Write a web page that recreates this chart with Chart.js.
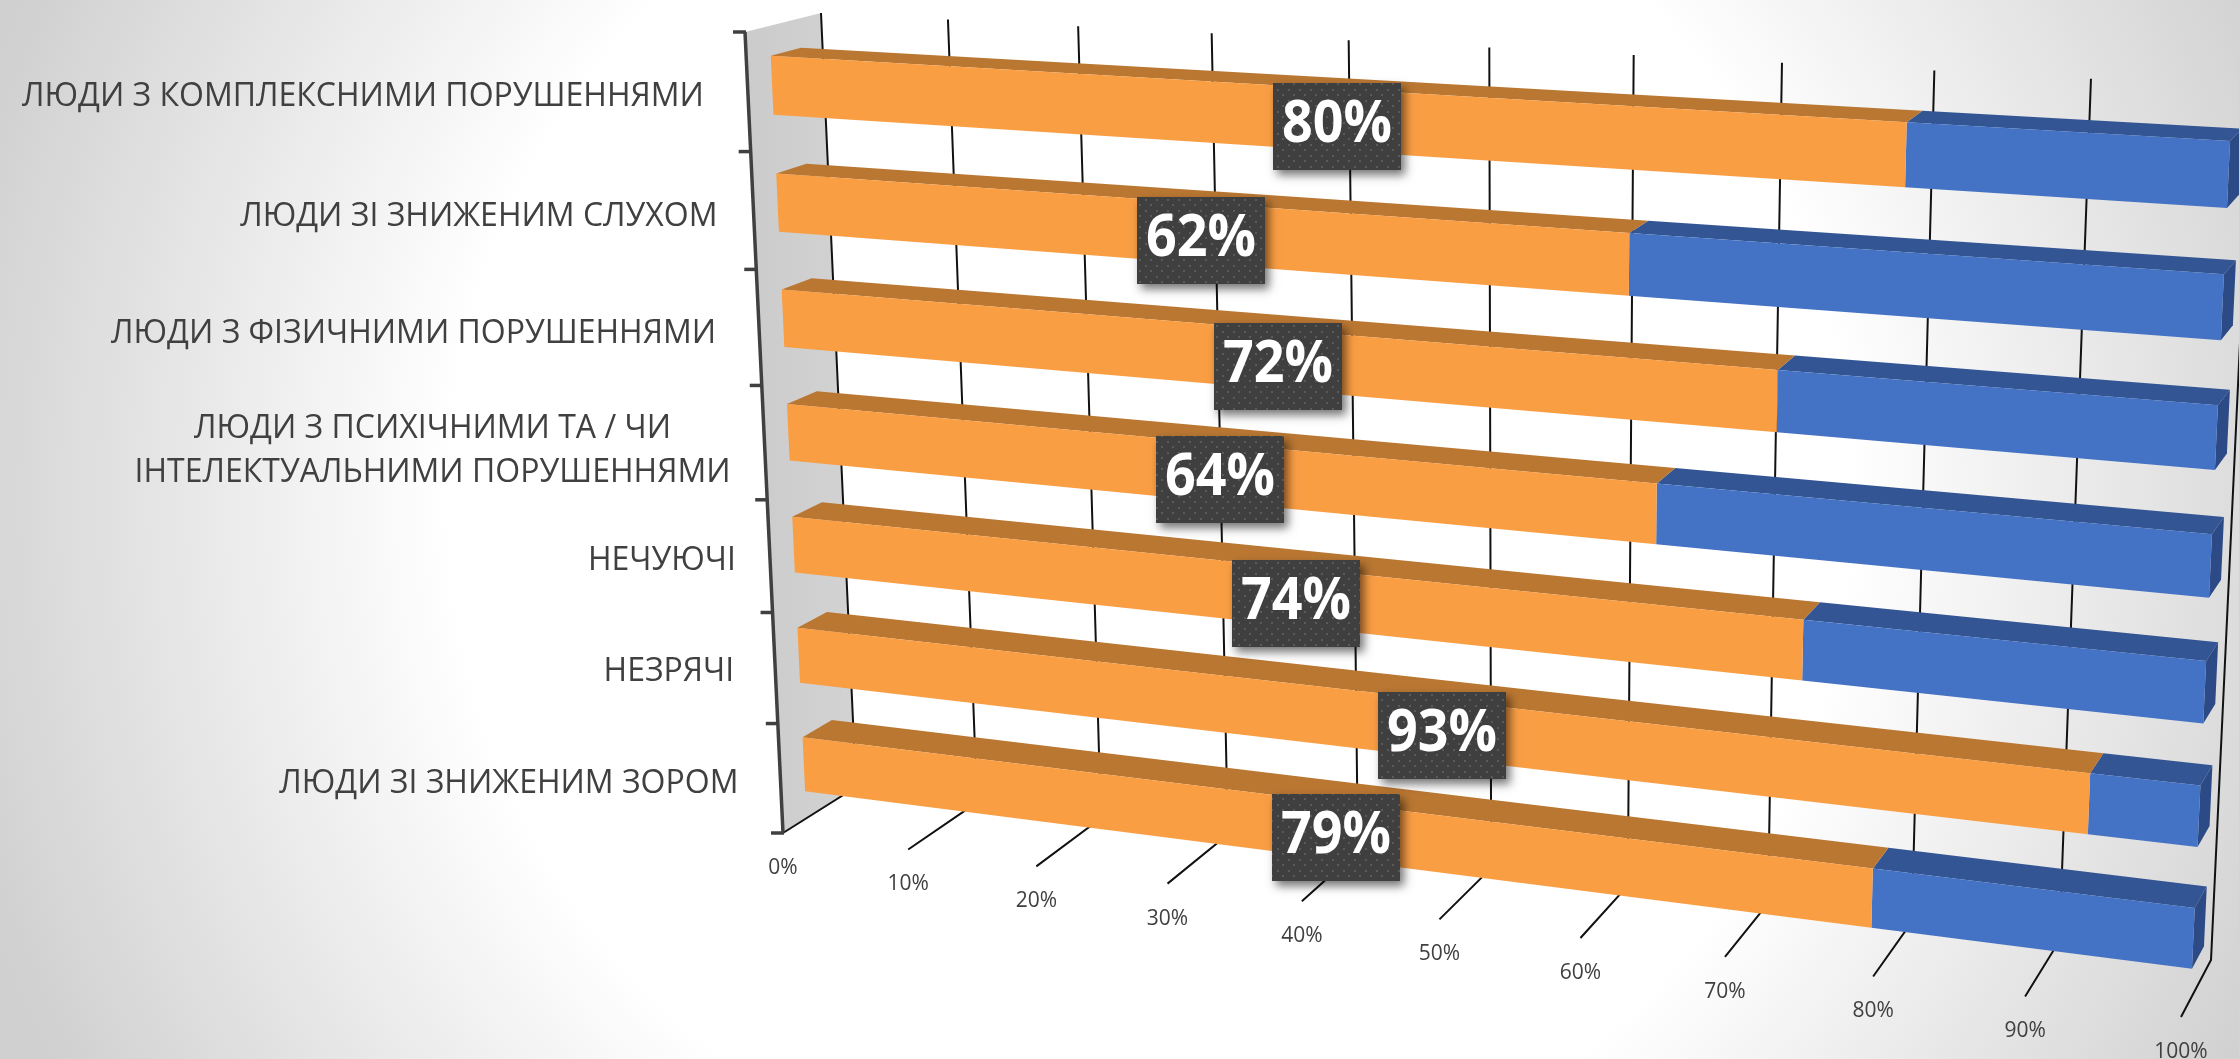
<!DOCTYPE html>
<html>
<head>
<meta charset="utf-8">
<script src="https://cdn.jsdelivr.net/npm/chart.js@4"></script>
<style>
    html, body { margin: 0; padding: 0; width: 2239px; height: 1059px; overflow: hidden; }
    body { background: radial-gradient(circle at 1150px 500px, #ffffff 700px, #d0d0d0 1230px); }
    canvas { display: block; }
</style>
</head>
<body>
<canvas id="grafico" width="2239" height="1059"></canvas>
<script>
// datos
const categorias = [
    'ЛЮДИ З КОМПЛЕКСНИМИ ПОРУШЕННЯМИ',
    'ЛЮДИ ЗІ ЗНИЖЕНИМ СЛУХОМ',
    'ЛЮДИ З ФІЗИЧНИМИ ПОРУШЕННЯМИ',
    ['ЛЮДИ З ПСИХІЧНИМИ ТА / ЧИ', 'ІНТЕЛЕКТУАЛЬНИМИ ПОРУШЕННЯМИ'],
    'НЕЧУЮЧІ',
    'НЕЗРЯЧІ',
    'ЛЮДИ ЗІ ЗНИЖЕНИМ ЗОРОМ'
];
const valoresNaranja = [80, 62, 72, 64, 74, 93, 79];
const valoresAzul = [20, 38, 28, 36, 26, 7, 21];

// esquinas de los planos frontal y trasero de la caja 3D (arriba-izq, arriba-der, abajo-der, abajo-izq)
const planoFrente = [[745, 32], [2222, 117], [2181, 1017], [783, 833]];
const planoFondo = [[821, 13], [2252, 87], [2211, 960], [856, 787]];
const barraDesde = 0.32, barraHasta = 0.72;
// ajuste de las etiquetas de categoria: [hueco hasta el eje, desplazamiento vertical]
const ajusteEtiquetas = [[44, 5], [36, 6], [43, 6], [34, 8], [34, 5], [41, 4], [42, 5]];

function homografia(q) {
    const [p0, p1, p2, p3] = q;
    const dx1 = p1[0] - p2[0], dx2 = p3[0] - p2[0], sx = p0[0] - p1[0] + p2[0] - p3[0];
    const dy1 = p1[1] - p2[1], dy2 = p3[1] - p2[1], sy = p0[1] - p1[1] + p2[1] - p3[1];
    const den = dx1 * dy2 - dx2 * dy1;
    const g = (sx * dy2 - dx2 * sy) / den;
    const h = (dx1 * sy - sx * dy1) / den;
    const a = p1[0] - p0[0] + g * p1[0], b = p3[0] - p0[0] + h * p3[0];
    const d = p1[1] - p0[1] + g * p1[1], e = p3[1] - p0[1] + h * p3[1];
    return function (u, v) {
        const w = g * u + h * v + 1;
        return [(a * u + b * v + p0[0]) / w, (d * u + e * v + p0[1]) / w];
    };
}
const hFrente = homografia(planoFrente);
const hFondo = homografia(planoFondo);

function proyectar(u, v, prof) {
    const a = hFrente(u, v), b = hFondo(u, v);
    return [a[0] + (b[0] - a[0]) * prof, a[1] + (b[1] - a[1]) * prof];
}

function poligono(ctx, puntos, color) {
    ctx.beginPath();
    puntos.forEach((p, i) => i ? ctx.lineTo(p[0], p[1]) : ctx.moveTo(p[0], p[1]));
    ctx.closePath();
    ctx.fillStyle = color;
    ctx.fill();
}

function linea(ctx, puntos, color, ancho) {
    ctx.beginPath();
    puntos.forEach((p, i) => i ? ctx.lineTo(p[0], p[1]) : ctx.moveTo(p[0], p[1]));
    ctx.strokeStyle = color;
    ctx.lineWidth = ancho;
    ctx.stroke();
}

function texturaPuntos(ctx) {
    const c = document.createElement('canvas');
    c.width = 11; c.height = 11;
    const t = c.getContext('2d');
    t.fillStyle = '#3f3f3f';
    t.fillRect(0, 0, 11, 11);
    t.fillStyle = '#5a5a5a';
    t.fillRect(1, 1, 2, 2);
    t.fillRect(6, 6, 2, 2);
    return ctx.createPattern(c, 'repeat');
}

const caja3d = {
    id: 'caja3d',
    beforeDatasetsDraw(chart) {
        const ctx = chart.ctx, x = chart.scales.x, y = chart.scales.y;
        const uDe = v => (x.getPixelForValue(v) - x.left) / x.width;

        // pared izquierda
        const grad = ctx.createLinearGradient(745, 0, 860, 0);
        grad.addColorStop(0, '#cbcbcb');
        grad.addColorStop(1, '#d3d3d3');
        poligono(ctx, [proyectar(0, 0, 0), proyectar(0, 0, 1), proyectar(0, 1, 1), proyectar(0, 1, 0)], grad);

        // lineas de cuadricula y etiquetas del eje de valores
        ctx.font = '21px "Open Sans"';
        ctx.textAlign = 'center';
        ctx.textBaseline = 'middle';
        x.ticks.forEach(t => {
            const u = uDe(t.value);
            linea(ctx, [proyectar(u, 0, 1), proyectar(u, 1, 1), proyectar(u, 1, 0)], '#111111', 2);
            const p = proyectar(u, 1, 0);
            ctx.fillStyle = '#404040';
            ctx.fillText(t.label, p[0], p[1] + 35);
        });

        // eje de categorias con sus marcas
        linea(ctx, [proyectar(0, 0, 0), proyectar(0, 1, 0)], '#404040', 3.5);
        for (let i = 0; i <= categorias.length; i++) {
            const p = proyectar(0, i / categorias.length, 0);
            linea(ctx, [[p[0] - 12, p[1]], [p[0] + 1, p[1]]], '#404040', 3.5);
        }

        // etiquetas de categoria
        ctx.font = '32px "Open Sans"';
        ctx.fillStyle = '#404040';
        y.ticks.forEach((t, i) => {
            const p = proyectar(0, (y.getPixelForTick(i) - y.top) / y.height, 0);
            const lineas = [].concat(t.label);
            const derecha = p[0] - ajusteEtiquetas[i][0];
            const medio = p[1] + ajusteEtiquetas[i][1];
            const ancho = Math.max(...lineas.map(l => ctx.measureText(l).width));
            lineas.forEach((l, j) => {
                ctx.fillText(l, derecha - ancho / 2, medio + (j - (lineas.length - 1) / 2) * 44);
            });
        });
    },
    // cada barra se dibuja como un prisma a partir de lo que calculan las escalas
    beforeDatasetDraw(chart, args) {
        const ctx = chart.ctx, x = chart.scales.x, y = chart.scales.y;
        const ds = chart.data.datasets[args.index];
        args.meta.data.forEach(barra => {
            const b = barra.getProps(['x', 'y', 'base', 'height'], true);
            const u0 = (b.base - x.left) / x.width, u1 = (b.x - x.left) / x.width;
            const v0 = (b.y - b.height / 2 - y.top) / y.height, v1 = (b.y + b.height / 2 - y.top) / y.height;
            poligono(ctx, [proyectar(u0, v0, barraDesde), proyectar(u1, v0, barraDesde),
                proyectar(u1, v0, barraHasta), proyectar(u0, v0, barraHasta)], ds.colorArriba);
            if (u1 > 0.999) {
                poligono(ctx, [proyectar(u1, v0, barraDesde), proyectar(u1, v0, barraHasta),
                    proyectar(u1, v1, barraHasta), proyectar(u1, v1, barraDesde)], ds.colorLado);
            }
            poligono(ctx, [proyectar(u0, v0, barraDesde), proyectar(u1, v0, barraDesde),
                proyectar(u1, v1, barraDesde), proyectar(u0, v1, barraDesde)], ds.backgroundColor);
        });
        return false;
    },
    afterDatasetsDraw(chart) {
        const ctx = chart.ctx, x = chart.scales.x, y = chart.scales.y;
        const meta = chart.getDatasetMeta(0);
        const relleno = texturaPuntos(ctx);
        meta.data.forEach((barra, i) => {
            const b = barra.getProps(['x', 'y', 'base', 'height'], true);
            // centro en pantalla de la cara frontal naranja
            const v = (b.y - y.top) / y.height;
            const izq = proyectar((b.base - x.left) / x.width, v, barraDesde);
            const der = proyectar((b.x - x.left) / x.width, v, barraDesde);
            const bx = Math.round((izq[0] + der[0]) / 2 - 66);
            const by = Math.round((izq[1] + der[1]) / 2 - 43 + 6);
            ctx.save();
            ctx.shadowColor = 'rgba(0, 0, 0, 0.55)';
            ctx.shadowBlur = 9;
            ctx.shadowOffsetX = 4;
            ctx.shadowOffsetY = 5;
            ctx.fillStyle = '#3f3f3f';
            ctx.fillRect(bx, by, 128, 87);
            ctx.restore();
            ctx.fillStyle = relleno;
            ctx.fillRect(bx, by, 128, 87);
            ctx.font = 'bold 59px "Open Sans"';
            ctx.textAlign = 'center';
            ctx.textBaseline = 'middle';
            ctx.fillStyle = '#ffffff';
            ctx.fillText(valoresNaranja[i] + '%', bx + 64, by + 42, 110);
        });
    }
};

new Chart(document.getElementById('grafico').getContext('2d'), {
    type: 'bar',
    data: {
        labels: categorias,
        datasets: [
            {
                data: valoresNaranja,
                backgroundColor: '#FA9E44',
                colorArriba: '#BA7732',
                colorLado: '#A96B2C',
                barPercentage: 0.5,
                categoryPercentage: 1
            },
            {
                data: valoresAzul,
                backgroundColor: '#4472C4',
                colorArriba: '#335593',
                colorLado: '#2C4A85',
                barPercentage: 0.5,
                categoryPercentage: 1
            }
        ]
    },
    options: {
        indexAxis: 'y',
        responsive: false,
        animation: false,
        events: [],
        layout: { padding: 0 },
        plugins: { legend: { display: false }, tooltip: { enabled: false } },
        scales: {
            x: {
                display: false,
                stacked: true,
                min: 0,
                max: 100,
                ticks: { stepSize: 10, autoSkip: false, callback: v => v + '%' }
            },
            y: {
                display: false,
                stacked: true,
                ticks: { autoSkip: false }
            }
        }
    },
    plugins: [caja3d]
});
</script>
</body>
</html>
